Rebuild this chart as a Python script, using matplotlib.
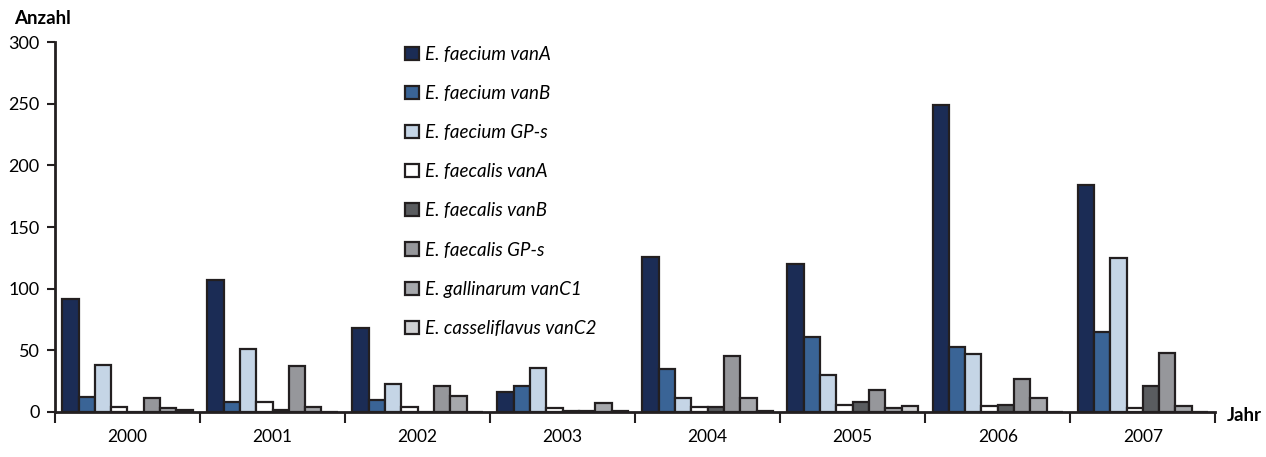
import numpy as np
import matplotlib.pyplot as plt

plt.rcParams['font.family'] = 'Lato'

years = ['2000', '2001', '2002', '2003', '2004', '2005', '2006', '2007']
labels = ['E. faecium vanA', 'E. faecium vanB', 'E. faecium GP-s',
          'E. faecalis vanA', 'E. faecalis vanB', 'E. faecalis GP-s',
          'E. gallinarum vanC1', 'E. casseliflavus vanC2']

faecium_vanA = [92, 107, 68, 16, 126, 120, 249, 184]
faecium_vanB = [12, 8, 10, 21, 35, 61, 53, 65]
faecium_gps = [38, 51, 23, 36, 11, 30, 47, 125]
faecalis_vanA = [4, 8, 4, 3, 4, 6, 5, 3]
faecalis_vanB = [0, 2, 0, 1, 4, 8, 6, 21]
faecalis_gps = [11, 37, 21, 1, 45, 18, 27, 48]
gallinarum_vanC1 = [3, 4, 13, 7, 11, 3, 11, 5]
casseliflavus_vanC2 = [2, 0, 0, 1, 1, 5, 0, 0]

series = [faecium_vanA, faecium_vanB, faecium_gps, faecalis_vanA,
          faecalis_vanB, faecalis_gps, gallinarum_vanC1, casseliflavus_vanC2]
colors = ['#1b2c55', '#3a6496', '#c5d5e6', '#ffffff',
          '#5a5c5f', '#96979b', '#a6a8ac', '#d0d1d3']
edge = '#231f20'

fig = plt.figure(figsize=(12.66, 4.57), dpi=100)
ax = fig.add_axes([0.0434, 0.0985, 0.9166, 0.8095])

x = np.arange(len(years))
w = 0.1125
for k, (vals, col, lab) in enumerate(zip(series, colors, labels)):
    pos = x + 0.5 + (k - 3.5) * w
    ax.bar(pos, vals, width=w, color=col, edgecolor=edge, linewidth=1.6, label=lab, zorder=2)

ax.set_xlim(0, len(years))
ax.set_ylim(0, 300)
ax.set_yticks(np.arange(0, 301, 50))
ax.set_xticks(np.arange(0, len(years) + 1))
ax.set_xticklabels([])
ax.set_xticks(x + 0.5, minor=True)
ax.set_xticklabels(years, minor=True)
ax.tick_params(axis='x', which='major', direction='out', length=8, width=1.5, color=edge)
ax.tick_params(axis='x', which='minor', length=0, pad=12, labelsize=12.5)
ax.tick_params(axis='y', direction='out', length=6, width=1.5, color=edge, labelsize=13, pad=5)

for s in ['top', 'right']:
    ax.spines[s].set_visible(False)
for s in ['left', 'bottom']:
    ax.spines[s].set_linewidth(2)
    ax.spines[s].set_color(edge)

fig.text(0.011, 0.96, 'Anzahl', fontsize=13.5, fontweight='bold', ha='left', va='center')
fig.text(0.969, 0.091, 'Jahr', fontsize=13.5, fontweight='bold', ha='left', va='center')

leg = ax.legend(loc='upper left', bbox_to_anchor=(0.3128, 0.92), bbox_transform=fig.transFigure,
                frameon=False, fontsize=13.5, handlelength=0.7, handleheight=0.7,
                handletextpad=0.35, labelspacing=1.18, borderpad=0)
for t in leg.get_texts():
    t.set_fontstyle('italic')

fig.savefig('out.png', dpi=100)
